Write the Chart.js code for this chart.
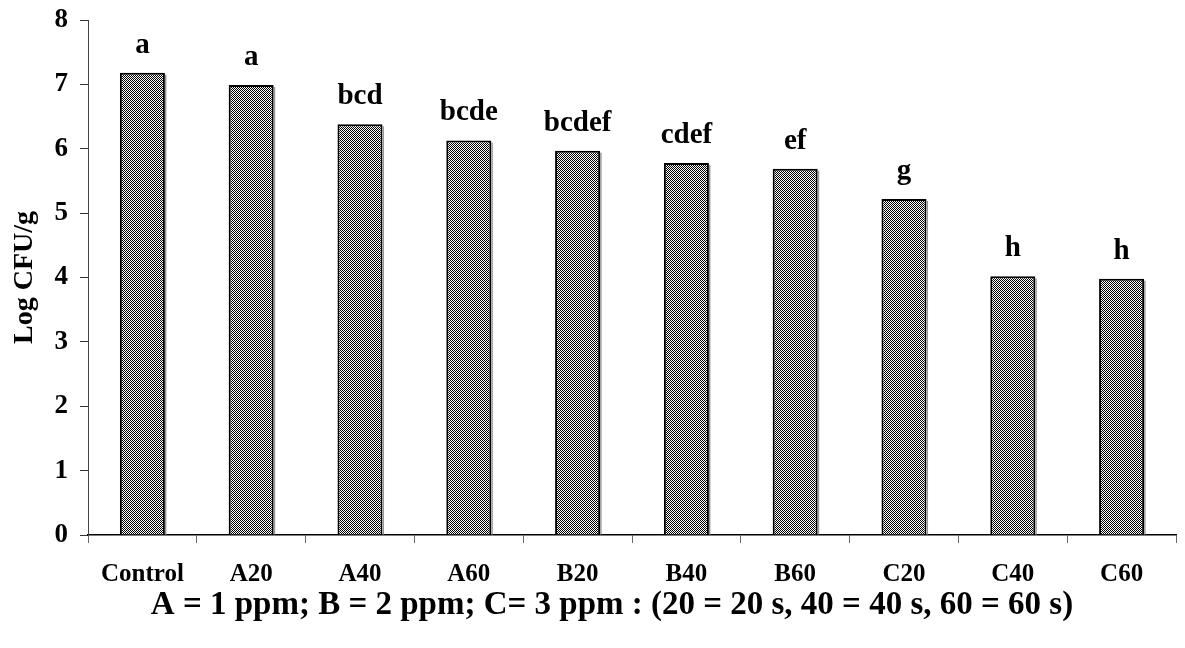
<!DOCTYPE html>
<html>
<head>
<meta charset="utf-8">
<script src="https://cdn.jsdelivr.net/npm/chart.js@4.4.1/dist/chart.umd.min.js"></script>
<style>
  html, body { margin: 0; padding: 0; background: #fff; }
  #wrap { width: 1185px; height: 648px; }
</style>
</head>
<body>
<div id="wrap"><canvas id="histogramme" width="1185" height="648"></canvas></div>
<script>
var treatments = ['Control', 'A20', 'A40', 'A60', 'B20', 'B40', 'B60', 'C20', 'C40', 'C60'];
var logCfu = [7.18, 6.99, 6.38, 6.13, 5.97, 5.78, 5.69, 5.22, 4.02, 3.98];
var groups = ['a', 'a', 'bcd', 'bcde', 'bcdef', 'cdef', 'ef', 'g', 'h', 'h'];
var yTicks = [0, 1, 2, 3, 4, 5, 6, 7, 8];

var serif = '"Liberation Serif", "Times New Roman", serif';

// checkered fill like the old excel dither
function checker() {
  var c = document.createElement('canvas');
  c.width = 2; c.height = 2;
  var g = c.getContext('2d');
  g.fillStyle = '#fff';
  g.fillRect(0, 0, 2, 2);
  g.fillStyle = '#000';
  g.fillRect(0, 0, 1, 1);
  g.fillRect(1, 1, 1, 1);
  return g.createPattern(c, 'repeat');
}

var ctx = document.getElementById('histogramme').getContext('2d');
var fill = checker();

var letters = {
  id: 'letters',
  afterDatasetsDraw: function(chart) {
    var c = chart.ctx;
    var meta = chart.getDatasetMeta(0);
    c.save();
    // small grey shadow on the right side of each bar
    c.strokeStyle = '#999';
    c.lineWidth = 1.5;
    for (var k = 0; k < meta.data.length; k++) {
      var b = meta.data[k];
      c.beginPath();
      c.moveTo(b.x + b.width / 2 + 0.75, b.y + 2);
      c.lineTo(b.x + b.width / 2 + 0.75, b.base);
      c.stroke();
    }
    c.fillStyle = '#000';
    c.font = 'bold 29px ' + serif;
    c.textAlign = 'center';
    c.textBaseline = 'alphabetic';
    for (var i = 0; i < meta.data.length; i++) {
      var bar = meta.data[i];
      c.fillText(groups[i], bar.x, bar.y - 20);
    }
    c.restore();
  }
};

var titles = {
  id: 'titles',
  afterDraw: function(chart) {
    var c = chart.ctx;
    var a = chart.chartArea;
    c.save();
    c.fillStyle = '#000';
    c.textAlign = 'center';
    c.textBaseline = 'middle';
    c.font = 'bold 33px ' + serif;
    c.fillText('A = 1 ppm; B = 2 ppm; C= 3 ppm : (20 = 20 s, 40 = 40 s, 60 = 60 s)', 612, 605);
    c.font = 'bold 28px ' + serif;
    c.translate(25, (a.top + a.bottom) / 2);
    c.rotate(-Math.PI / 2);
    c.fillText('Log CFU/g', 0, 0);
    c.restore();
  }
};

var config = {
  type: 'bar',
  data: {
    labels: treatments,
    datasets: [{
      data: logCfu,
      backgroundColor: fill,
      borderColor: '#000',
      borderWidth: 2,
      categoryPercentage: 1,
      barPercentage: 0.414
    }]
  },
  options: {
    responsive: false,
    animation: false,
    devicePixelRatio: 1,
    layout: { padding: { left: 0, right: 9, top: 20, bottom: 0 } },
    plugins: {
      legend: { display: false },
      tooltip: { enabled: false }
    },
    scales: {
      x: {
        offset: true,
        grid: { offset: true, drawOnChartArea: false, tickLength: 8, color: '#666', lineWidth: 1 },
        border: { color: '#000', width: 1.5 },
        ticks: { color: '#000', padding: 17, font: { family: serif, size: 25, weight: 'bold' } },
        afterFit: function(s) { s.height = 113; s.paddingLeft = 0; s.paddingRight = 0; }
      },
      y: {
        min: 0,
        max: 8,
        afterBuildTicks: function(s) { s.ticks = yTicks.map(function(v) { return { value: v }; }); },
        grid: { drawOnChartArea: false, tickLength: 8, color: '#333', lineWidth: 1 },
        border: { color: '#444', width: 1 },
        ticks: { color: '#000', padding: 12, font: { family: serif, size: 27, weight: 'bold' } },
        afterFit: function(s) { s.width = 88; s.paddingTop = 0; s.paddingBottom = 0; }
      }
    }
  },
  plugins: [letters, titles]
};

var myChart = new Chart(ctx, config);
</script>
</body>
</html>
